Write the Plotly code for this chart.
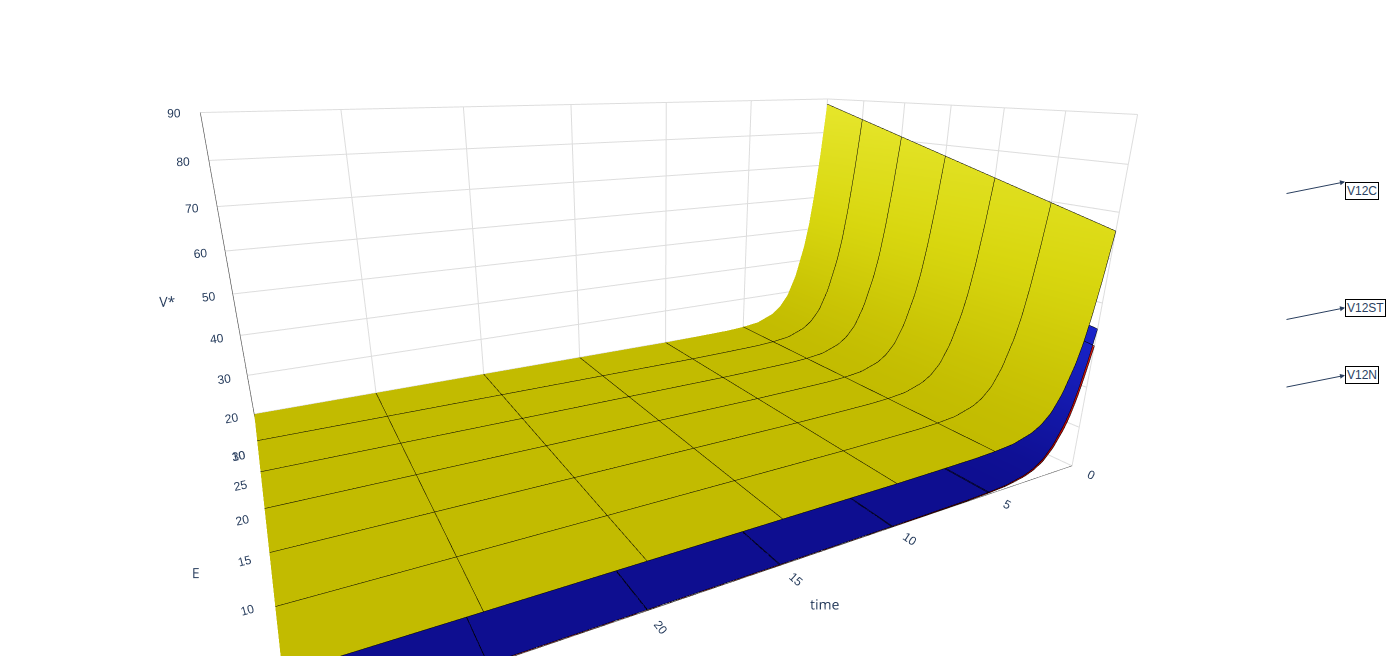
import plotly.graph_objects as go

time_vals = [0, 0.25, 0.5, 0.75, 1, 1.5, 2, 2.5, 3, 4, 5, 6, 8, 10, 12, 14, 16, 18, 20, 22, 24, 26, 28, 30]
decay = [1.0, 0.78, 0.6, 0.46, 0.36, 0.22, 0.13, 0.08, 0.05, 0.02, 0.01, 0.005, 0.002, 0, 0, 0, 0, 0, 0, 0, 0, 0, 0, 0]
E_vals = [0, 2, 4, 6, 8, 10, 12, 14, 16, 18, 20, 22, 24, 26, 28, 30]
peak_C = [66, 67.5, 69, 70.5, 72, 73.5, 75, 76.5, 78, 79.5, 81, 82.5, 84, 85.5, 87, 88.5]
peak_ST = [44, 45, 46, 47, 48, 49, 50, 51, 52, 53, 54, 55, 56, 57, 58, 59]
peak_N = [40, 41, 42, 43, 44, 45, 46, 47, 48, 49, 50, 51, 52, 53, 54, 55]
base_C, base_ST, base_N = 20, 10.2, 10

def grid(peak, base):
    return [[base + (p - base) * d for d in decay] for p in peak]

def surf(peak, base, cs):
    return go.Surface(x=time_vals, y=E_vals, z=grid(peak, base), colorscale=cs, showscale=False,
                      contours=dict(x=dict(show=True, color="black", width=1), y=dict(show=True, color="black", width=1)),
                      lighting=dict(ambient=0.9, diffuse=0.3))

fig = go.Figure([
    surf(peak_N, base_N, [[0, "#c00000"], [1, "#ff2a1a"]]),
    surf(peak_ST, base_ST, [[0, "#1010a0"], [1, "#2233ff"]]),
    surf(peak_C, base_C, [[0, "#d8d000"], [0.5, "#f0ee10"], [1, "#ffff30"]]),
])
ax = dict(showbackground=False, gridcolor="#dddddd", linecolor="#333", tickfont=dict(size=12, family="Arial"), zeroline=False)
fig.update_layout(
    width=1400, height=656, paper_bgcolor="white", margin=dict(l=0, r=0, t=0, b=0),
    scene=dict(
        xaxis=dict(ax, title=dict(text="time"), range=[30, 0], tickvals=[0, 5, 10, 15, 20, 25, 30]),
        yaxis=dict(ax, title=dict(text="E"), range=[0, 30], tickvals=[0, 5, 10, 15, 20, 25, 30]),
        zaxis=dict(ax, title=dict(text="V*"), range=[10, 90], tickvals=[10, 20, 30, 40, 50, 60, 70, 80, 90]),
        aspectmode="manual", aspectratio=dict(x=1.9, y=1.1, z=0.9),
        camera=dict(eye=dict(x=-0.9, y=-1.7, z=0.55), center=dict(x=0, y=0, z=-0.1)),
        domain=dict(x=[0, 0.93], y=[0, 1]),
    ),
    showlegend=False,
)
for txt, y in [("V12C", 0.735), ("V12ST", 0.543), ("V12N", 0.44)]:
    fig.add_annotation(x=0.955, y=y, xref="paper", yref="paper", ax=-60, ay=12,
                       text="", showarrow=True, arrowhead=2, arrowwidth=1)
    fig.add_annotation(x=0.955, y=y, xref="paper", yref="paper", xanchor="left", text=txt, showarrow=False,
                       bordercolor="black", borderwidth=1, bgcolor="white", font=dict(size=12, family="Arial"))
fig.write_html("out.html")
